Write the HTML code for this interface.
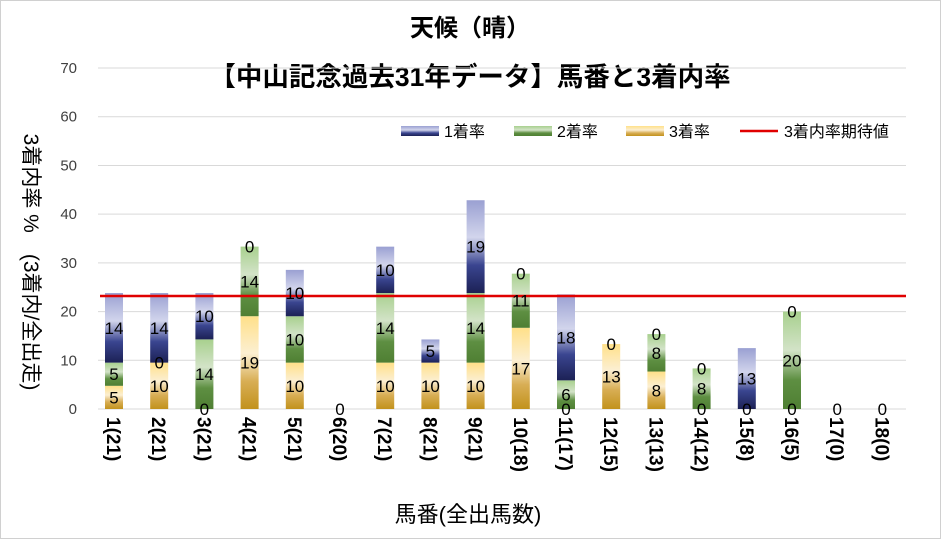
<!DOCTYPE html>
<html><head><meta charset="utf-8"><style>
html,body{margin:0;padding:0;background:#fff}
svg{display:block;font-family:"Liberation Sans","Noto Sans CJK JP",sans-serif}
</style></head><body>
<svg id="s" width="941" height="539" viewBox="0 0 941 539" xmlns="http://www.w3.org/2000/svg">
<defs>
<linearGradient id="gb" x1="0" y1="0" x2="0" y2="1"><stop offset="0" stop-color="#9aa0d2"/><stop offset="0.4" stop-color="#d2d5ec"/><stop offset="0.7" stop-color="#3a4590"/><stop offset="1" stop-color="#1c2155"/></linearGradient>
<linearGradient id="gg" x1="0" y1="0" x2="0" y2="1"><stop offset="0" stop-color="#a8d08e"/><stop offset="0.4" stop-color="#d3e3c8"/><stop offset="0.7" stop-color="#5e8f42"/><stop offset="1" stop-color="#4f7f33"/></linearGradient>
<linearGradient id="gy" x1="0" y1="0" x2="0" y2="1"><stop offset="0" stop-color="#ffe089"/><stop offset="0.4" stop-color="#fcefd2"/><stop offset="0.7" stop-color="#d8ae55"/><stop offset="1" stop-color="#c2921c"/></linearGradient>
</defs>
<rect x="0.5" y="0.5" width="940" height="538" fill="#fff" stroke="#d0d0d0"/>
<text x="470" y="36" font-size="24" font-weight="bold" text-anchor="middle">天候（晴）</text>
<text x="470" y="86" font-size="26.5" font-weight="bold" text-anchor="middle">【中山記念過去31年データ】馬番と3着内率</text>
<g id="grid" stroke="#d9d9d9" stroke-width="1"></g>
<g id="yl" font-size="15" text-anchor="end" fill="#404040"></g>
<g id="bars"></g>
<line x1="100" y1="296" x2="906" y2="296" stroke="#e00000" stroke-width="2.5"/>
<g id="lab" font-size="17" text-anchor="middle" fill="#000"></g>
<g id="xl" font-size="19" font-weight="bold" fill="#000"></g>
<text transform="translate(24,262) rotate(90)" font-size="21" text-anchor="middle">3着内率 %　(3着内/全出走)</text>
<text x="468" y="522" font-size="22" text-anchor="middle">馬番(全出馬数)</text>
<g font-size="16">
<rect x="401" y="126" width="38" height="10" fill="url(#gb)"/><text x="444" y="137">1着率</text>
<rect x="514" y="126" width="38" height="10" fill="url(#gg)"/><text x="557" y="137">2着率</text>
<rect x="626" y="126" width="38" height="10" fill="url(#gy)"/><text x="669" y="137">3着率</text>
<line x1="740" y1="131" x2="778" y2="131" stroke="#e00000" stroke-width="2.5"/><text x="784" y="137">3着内率期待値</text>
</g>
</svg>
<script>
var NS="http://www.w3.org/2000/svg";
function el(p,t,a,txt){var e=document.createElementNS(NS,t);for(var k in a)e.setAttribute(k,a[k]);if(txt!=null)e.textContent=txt;document.getElementById(p).appendChild(e);return e;}
function Y(v){return 409-v*4.871;}
for(var i=0;i<=7;i++){var y=Y(i*10);el("grid","line",{x1:98,x2:906,y1:y,y2:y});el("yl","text",{x:77,y:y+5},i*10);}
var names=["1(21)","2(21)","3(21)","4(21)","5(21)","6(20)","7(21)","8(21)","9(21)","10(18)","11(17)","12(15)","13(13)","14(12)","15(8)","16(5)","17(0)","18(0)"];
var d=[
[[4.76,4.76,14.29],["5","5","14"]],
[[9.52,0,14.29],["10","0","14"]],
[[0,14.29,9.52],["0","14","10"]],
[[19.05,14.29,0],["19","14","0"]],
[[9.52,9.52,9.52],["10","10","10"]],
[[0,0,0],["0",null,null]],
[[9.52,14.29,9.52],["10","14","10"]],
[[9.52,0,4.76],["10",null,"5"]],
[[9.52,14.29,19.05],["10","14","19"]],
[[16.67,11.11,0],["17","11","0"]],
[[0,5.88,17.65],["0","6","18"]],
[[13.33,0,0],["13",null,"0"]],
[[7.69,7.69,0],["8","8","0"]],
[[0,8.33,0],["0","8","0"]],
[[0,0,12.5],["0",null,"13"]],
[[0,20,0],["0","20","0"]],
[[0,0,0],["0",null,null]],
[[0,0,0],["0",null,null]]];
var fills=["url(#gy)","url(#gg)","url(#gb)"];
for(var b=0;b<18;b++){
 var cx=114+b*45.2,base=0;
 for(var s=0;s<3;s++){
  var v=d[b][0][s];
  if(v>0)el("bars","rect",{x:cx-9,y:Y(base+v),width:18,height:v*4.871,fill:fills[s]});
  var l=d[b][1][s];
  if(l!=null)el("lab","text",{x:cx,y:Y(base+v/2)+6},l);
  base+=v;
 }
 el("xl","text",{transform:"translate("+(cx-7)+",417) rotate(90)"},names[b]);
}
</script>
</body></html>
